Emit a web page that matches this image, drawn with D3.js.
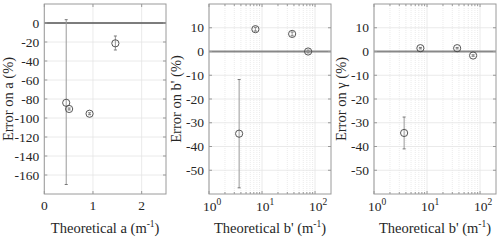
<!DOCTYPE html>
<html>
<head>
<meta charset="utf-8">
<script src="https://cdn.jsdelivr.net/npm/d3@7"></script>
<style>
  body { margin: 0; background: #fff; }
  svg text { font-family: "Liberation Serif", Times, "Times New Roman", "DejaVu Serif", serif; }
</style>
</head>
<body>
<script>
// data
const theoA = [0.45, 0.51, 0.93, 1.46];
const errA = [-84, -90.5, -95.5, -21.4];
const errALow = [-170, -91.5, -96.5, -28.4];
const errAHigh = [3.5, -89.5, -94.5, -13.7];

const theoB = [3.7, 7.5, 37, 74];
const errB = [-34.6, 9.4, 7.4, 0];
const errBLow = [-57.4, 8.6, 6.6, -0.6];
const errBHigh = [-11.8, 10.2, 8.2, 0.6];

const errG = [-34.3, 1.4, 1.4, -1.7];
const errGLow = [-41, 1.1, 1.1, -2];
const errGHigh = [-27.6, 1.7, 1.7, -1.4];

const yTicksA = [0, -20, -40, -60, -80, -100, -120, -140, -160];
const xTicksA = [0, 1, 2];
const yTicksB = [10, 0, -10, -20, -30, -40, -50];
const xTicksLog = [1, 10, 100];

const W = 500, H = 240;
const svg = d3.select('body').append('svg')
  .attr('width', W).attr('height', H)
  .attr('fill', '#262626');

const plotTop = 4, plotBottom = 194;

function panel(opt) {
  const g = svg.append('g');
  const x = opt.log
    ? d3.scaleLog().domain(opt.xDomain).range([opt.left, opt.right])
    : d3.scaleLinear().domain(opt.xDomain).range([opt.left, opt.right]);
  const y = d3.scaleLinear().domain(opt.yDomain).range([plotBottom, plotTop]);

  // minor log grid
  if (opt.log) {
    const minor = [];
    for (let d = 1; d <= 100; d *= 10) {
      for (let k = 2; k <= 9; k++) if (d * k < opt.xDomain[1]) minor.push(d * k);
    }
    g.selectAll(null).data(minor).enter().append('line')
      .attr('x1', d => x(d)).attr('x2', d => x(d))
      .attr('y1', plotTop).attr('y2', plotBottom)
      .attr('stroke', '#e6e6e6').attr('stroke-width', 0.8)
      .attr('stroke-dasharray', '1,1');
    // minor tick marks
    g.selectAll(null).data(minor).enter().append('line')
      .attr('x1', d => x(d)).attr('x2', d => x(d))
      .attr('y1', plotBottom).attr('y2', plotBottom - 2)
      .attr('stroke', '#999');
    g.selectAll(null).data(minor).enter().append('line')
      .attr('x1', d => x(d)).attr('x2', d => x(d))
      .attr('y1', plotTop).attr('y2', plotTop + 2)
      .attr('stroke', '#999');
  }

  // major grid
  g.selectAll(null).data(opt.xTicks).enter().append('line')
    .attr('x1', d => x(d)).attr('x2', d => x(d))
    .attr('y1', plotTop).attr('y2', plotBottom)
    .attr('stroke', '#e4e4e4').attr('stroke-width', 0.8);
  g.selectAll(null).data(opt.yTicks).enter().append('line')
    .attr('x1', opt.left).attr('x2', opt.right)
    .attr('y1', d => y(d)).attr('y2', d => y(d))
    .attr('stroke', '#e4e4e4').attr('stroke-width', 0.8);

  // zero line
  g.append('line')
    .attr('x1', opt.left).attr('x2', opt.right)
    .attr('y1', y(0)).attr('y2', y(0))
    .attr('stroke', opt.zeroColor).attr('stroke-width', opt.zeroWidth);

  // major tick marks
  g.selectAll(null).data(opt.xTicks).enter().append('line')
    .attr('x1', d => x(d)).attr('x2', d => x(d))
    .attr('y1', plotBottom).attr('y2', plotBottom - 3).attr('stroke', '#999');
  g.selectAll(null).data(opt.xTicks).enter().append('line')
    .attr('x1', d => x(d)).attr('x2', d => x(d))
    .attr('y1', plotTop).attr('y2', plotTop + 3).attr('stroke', '#999');
  g.selectAll(null).data(opt.yTicks).enter().append('line')
    .attr('x1', opt.left).attr('x2', opt.left + 3)
    .attr('y1', d => y(d)).attr('y2', d => y(d)).attr('stroke', '#999');
  g.selectAll(null).data(opt.yTicks).enter().append('line')
    .attr('x1', opt.right).attr('x2', opt.right - 3)
    .attr('y1', d => y(d)).attr('y2', d => y(d)).attr('stroke', '#999');

  // box
  g.append('rect')
    .attr('x', opt.left).attr('y', plotTop)
    .attr('width', opt.right - opt.left).attr('height', plotBottom - plotTop)
    .attr('fill', 'none').attr('stroke', '#9a9a9a').attr('stroke-width', 1);

  // tick labels
  g.selectAll(null).data(opt.yTicks).enter().append('text')
    .attr('x', opt.left - 5).attr('y', d => y(d) + 4.5)
    .attr('text-anchor', 'end').attr('font-size', 13.5)
    .text(d => d);

  if (opt.log) {
    const t = g.selectAll(null).data(opt.xTicks).enter().append('text')
      .attr('x', d => x(d) + 3).attr('y', plotBottom + 17)
      .attr('text-anchor', 'middle').attr('font-size', 13.5);
    t.append('tspan').text('10');
    t.append('tspan').attr('dy', -6).attr('font-size', 9.5).text(d => Math.round(Math.log10(d)));
  } else {
    g.selectAll(null).data(opt.xTicks).enter().append('text')
      .attr('x', d => x(d)).attr('y', plotBottom + 16)
      .attr('text-anchor', 'middle').attr('font-size', 13.5)
      .text(d => d);
  }

  // axis titles
  const xt = g.append('text')
    .attr('x', (opt.left + opt.right) / 2).attr('y', plotBottom + 39)
    .attr('text-anchor', 'middle').attr('font-size', 14.5);
  xt.append('tspan').text(opt.xLabel + ' (m');
  xt.append('tspan').attr('dy', -6).attr('font-size', 9.5).text('-1');
  xt.append('tspan').attr('dy', 6).text(')');

  g.append('text')
    .attr('transform', `translate(${opt.yLabelX},${(plotTop + plotBottom) / 2}) rotate(-90)`)
    .attr('text-anchor', 'middle').attr('font-size', 14.5)
    .text(opt.yLabel);

  // error bars
  const idx = d3.range(opt.xs.length);
  g.selectAll(null).data(idx).enter().append('line')
    .attr('x1', i => x(opt.xs[i])).attr('x2', i => x(opt.xs[i]))
    .attr('y1', i => y(opt.lo[i])).attr('y2', i => y(opt.hi[i]))
    .attr('stroke', '#999').attr('stroke-width', 1);
  [opt.lo, opt.hi].forEach(arr => {
    g.selectAll(null).data(idx).enter().append('line')
      .attr('x1', i => x(opt.xs[i]) - 1.5).attr('x2', i => x(opt.xs[i]) + 1.5)
      .attr('y1', i => y(arr[i])).attr('y2', i => y(arr[i]))
      .attr('stroke', '#777').attr('stroke-width', 1);
  });

  // markers
  g.selectAll(null).data(idx).enter().append('circle')
    .attr('cx', i => x(opt.xs[i])).attr('cy', i => y(opt.ys[i]))
    .attr('r', 3.6).attr('fill', 'none')
    .attr('stroke', '#444').attr('stroke-width', 0.9);
}

panel({
  left: 44.3, right: 166, log: false,
  xDomain: [0, 2.5], yDomain: [-180, 20],
  xTicks: xTicksA, yTicks: yTicksA,
  xs: theoA, ys: errA, lo: errALow, hi: errAHigh,
  xLabel: 'Theoretical a', yLabel: 'Error on a (%)', yLabelX: 13,
  zeroColor: '#555', zeroWidth: 1.5
});

panel({
  left: 209, right: 331, log: true,
  xDomain: [1, 200], yDomain: [-60, 20],
  xTicks: xTicksLog, yTicks: yTicksB,
  xs: theoB, ys: errB, lo: errBLow, hi: errBHigh,
  xLabel: "Theoretical b'", yLabel: "Error on b' (%)", yLabelX: 181,
  zeroColor: '#888', zeroWidth: 2
});

panel({
  left: 374, right: 496, log: true,
  xDomain: [1, 200], yDomain: [-60, 20],
  xTicks: xTicksLog, yTicks: yTicksB,
  xs: theoB, ys: errG, lo: errGLow, hi: errGHigh,
  xLabel: "Theoretical b'", yLabel: 'Error on \u03b3 (%)', yLabelX: 346,
  zeroColor: '#888', zeroWidth: 2
});
</script>
</body>
</html>
